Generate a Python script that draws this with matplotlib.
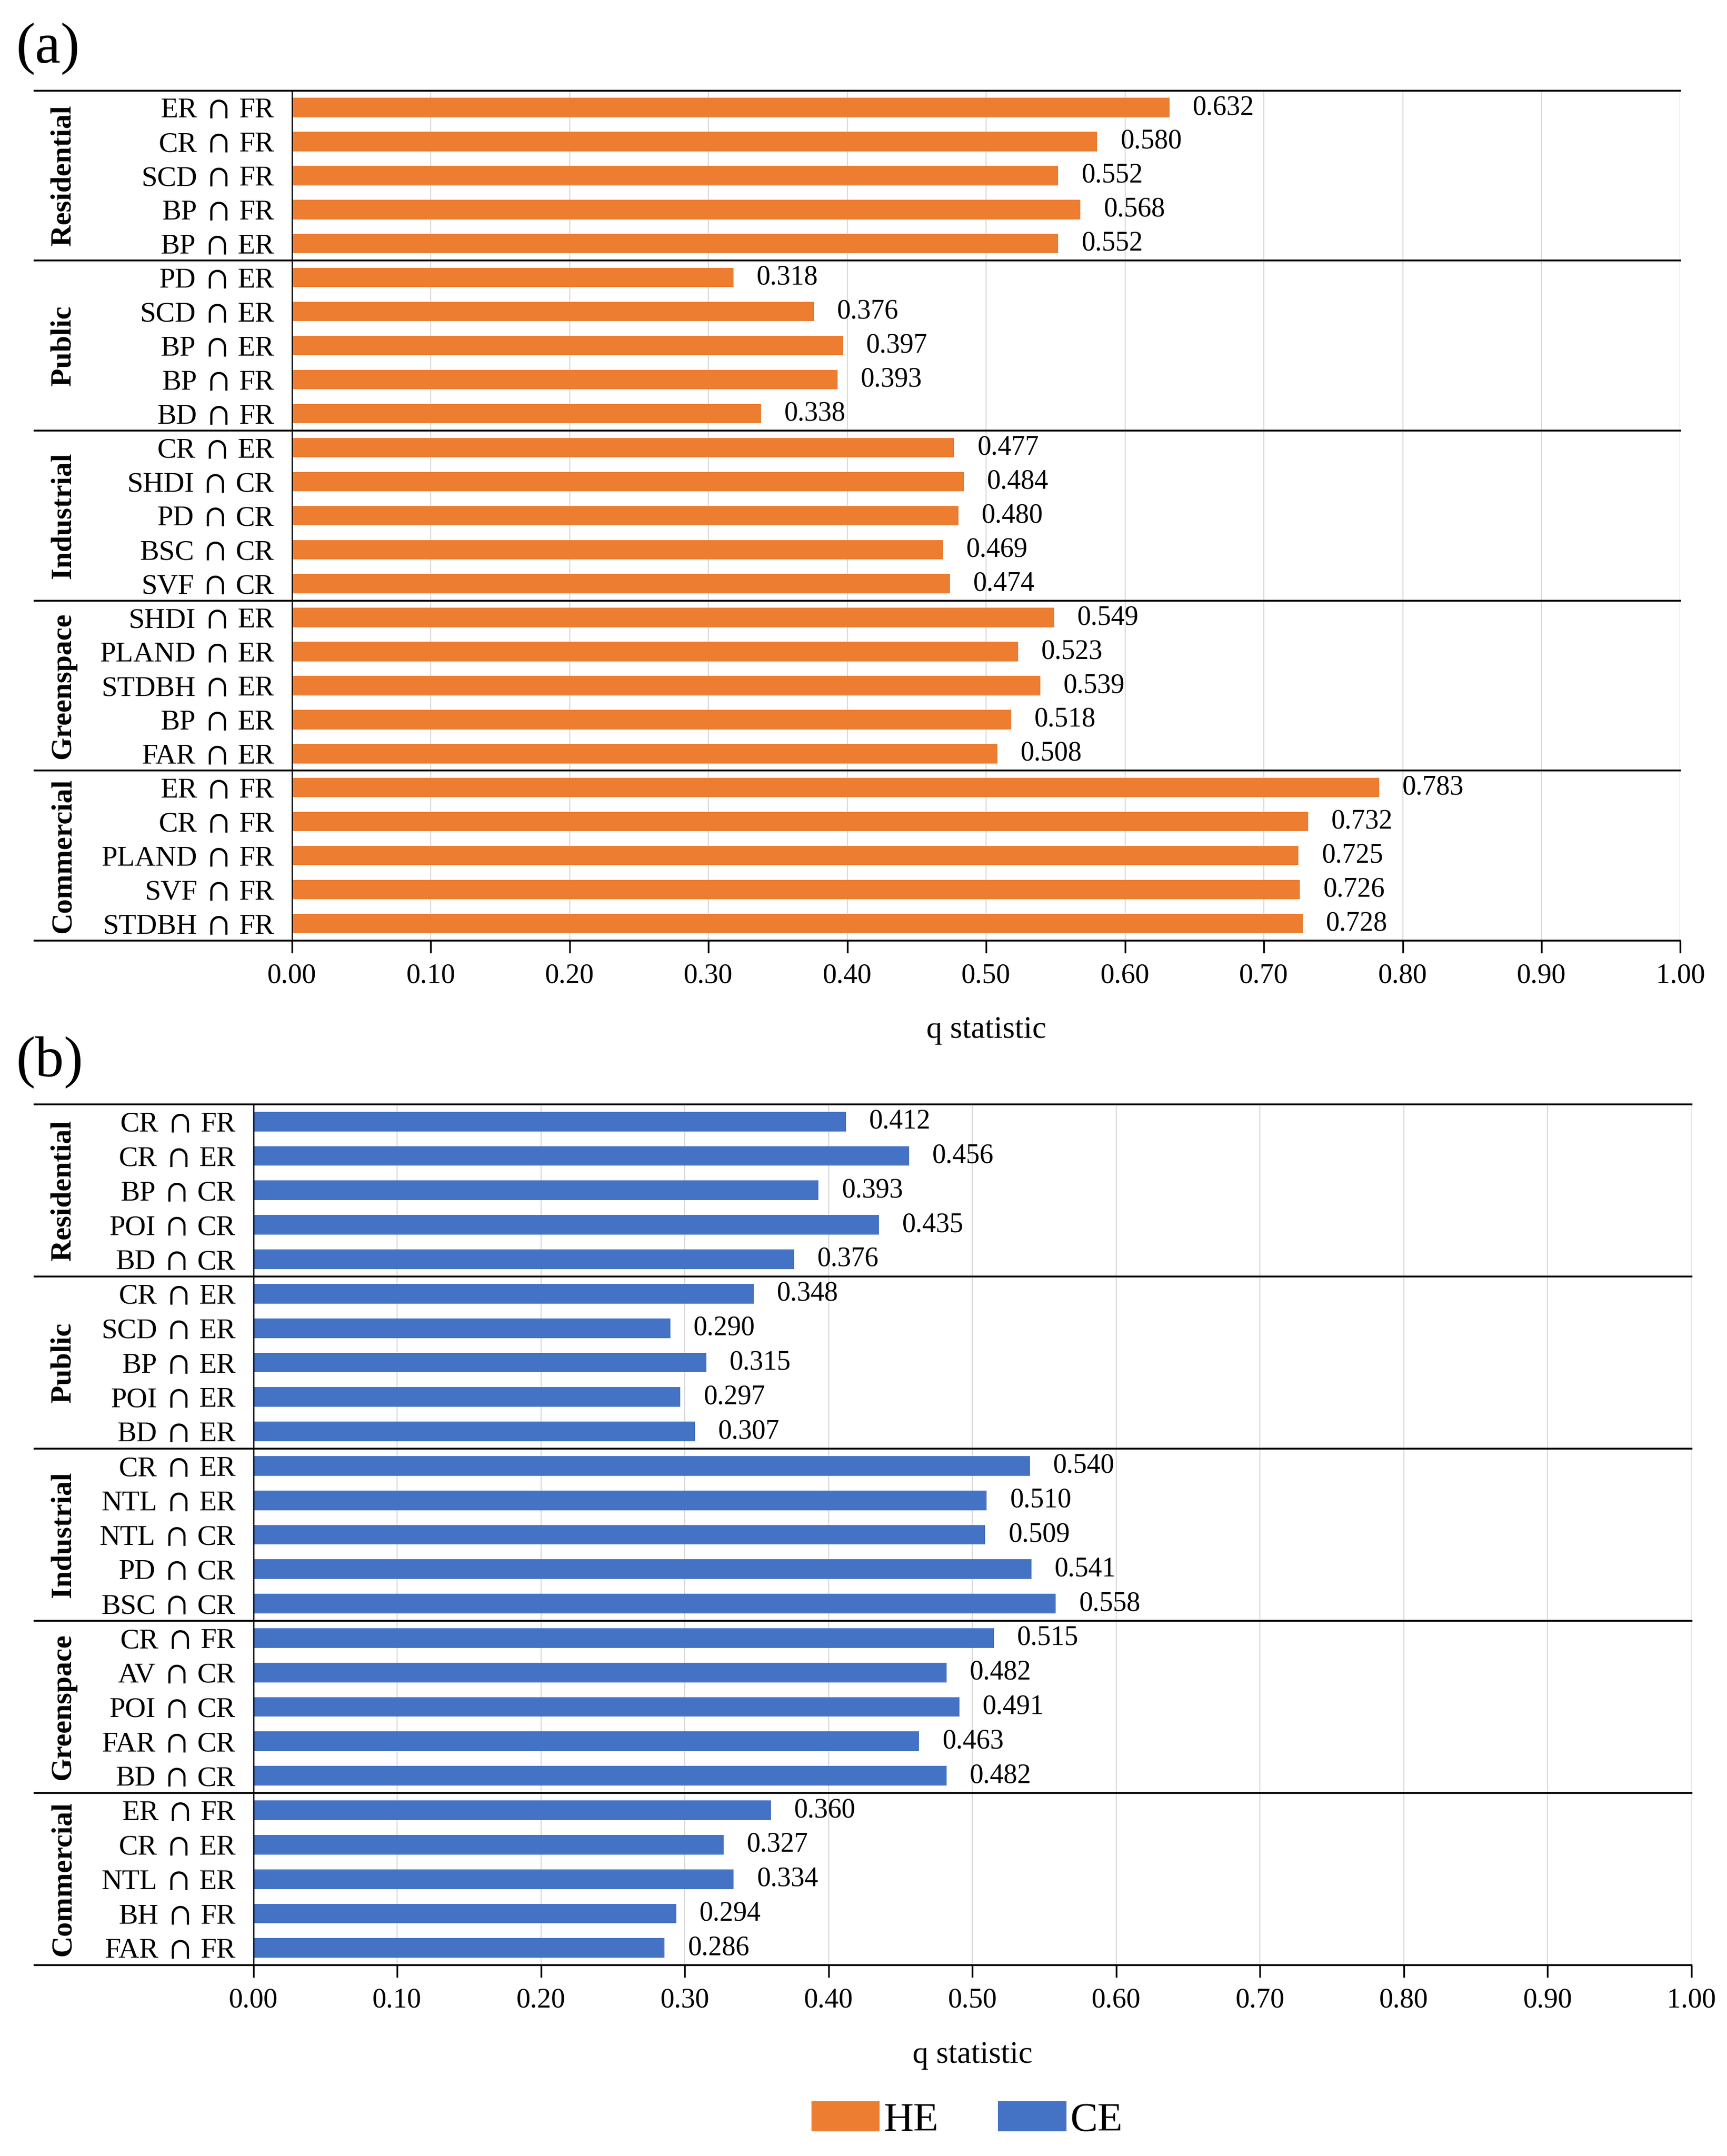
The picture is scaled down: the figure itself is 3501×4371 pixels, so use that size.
import numpy as np
import matplotlib
matplotlib.use('Agg')
import matplotlib.pyplot as plt
from matplotlib.patches import Patch
from matplotlib.transforms import blended_transform_factory
from matplotlib.offsetbox import TextArea, HPacker, AnnotationBbox

SERIF = ['Liberation Serif', 'DejaVu Serif']
plt.rcParams['font.family'] = SERIF

# ---- 数据 ----
groups = ['Residential', 'Public', 'Industrial', 'Greenspace', 'Commercial']

he_labels = ['ER ∩ FR', 'CR ∩ FR', 'SCD ∩ FR', 'BP ∩ FR', 'BP ∩ ER',
             'PD ∩ ER', 'SCD ∩ ER', 'BP ∩ ER', 'BP ∩ FR', 'BD ∩ FR',
             'CR ∩ ER', 'SHDI ∩ CR', 'PD ∩ CR', 'BSC ∩ CR', 'SVF ∩ CR',
             'SHDI ∩ ER', 'PLAND ∩ ER', 'STDBH ∩ ER', 'BP ∩ ER', 'FAR ∩ ER',
             'ER ∩ FR', 'CR ∩ FR', 'PLAND ∩ FR', 'SVF ∩ FR', 'STDBH ∩ FR']
he_values = [0.632, 0.580, 0.552, 0.568, 0.552,
             0.318, 0.376, 0.397, 0.393, 0.338,
             0.477, 0.484, 0.480, 0.469, 0.474,
             0.549, 0.523, 0.539, 0.518, 0.508,
             0.783, 0.732, 0.725, 0.726, 0.728]

ce_labels = ['CR ∩ FR', 'CR ∩ ER', 'BP ∩ CR', 'POI ∩ CR', 'BD ∩ CR',
             'CR ∩ ER', 'SCD ∩ ER', 'BP ∩ ER', 'POI ∩ ER', 'BD ∩ ER',
             'CR ∩ ER', 'NTL ∩ ER', 'NTL ∩ CR', 'PD ∩ CR', 'BSC ∩ CR',
             'CR ∩ FR', 'AV ∩ CR', 'POI ∩ CR', 'FAR ∩ CR', 'BD ∩ CR',
             'ER ∩ FR', 'CR ∩ ER', 'NTL ∩ ER', 'BH ∩ FR', 'FAR ∩ FR']
ce_values = [0.412, 0.456, 0.393, 0.435, 0.376,
             0.348, 0.290, 0.315, 0.297, 0.307,
             0.540, 0.510, 0.509, 0.541, 0.558,
             0.515, 0.482, 0.491, 0.463, 0.482,
             0.360, 0.327, 0.334, 0.294, 0.286]

x_ticks = np.arange(0, 1.01, 0.1)

HE_COLOR = '#ED7D31'
CE_COLOR = '#4472C4'

fig = plt.figure(figsize=(35.01, 43.71), dpi=100)
fig.patch.set_facecolor('white')

LINE_LEFT = 0.02  # 分隔线左端 (figure 坐标)


def cat_label(ax, yi, lab):
    """类别标签: ∩ 用 STIX 数学字体 (细且高), 右对齐到 y 轴左侧"""
    a, b = lab.split(' ∩ ')
    parts = [TextArea(a, textprops=dict(fontsize=42, family=SERIF)),
             TextArea(r'$\cap$', textprops=dict(fontsize=48, math_fontfamily='stix')),
             TextArea(b, textprops=dict(fontsize=42, family=SERIF))]
    box = HPacker(children=parts, align='baseline', pad=0, sep=16)
    tr = blended_transform_factory(ax.transAxes, ax.transData)
    ab = AnnotationBbox(box, (0, yi), xycoords=tr, xybox=(-26, 0),
                        boxcoords='offset points', box_alignment=(1, 0.56),
                        frameon=False, annotation_clip=False, pad=0)
    ax.add_artist(ab)


def draw_panel(rect, labels, values, color, tag):
    ax = fig.add_axes(rect)
    n = len(labels)
    y = np.arange(n)
    ax.barh(y, values, height=0.57, color=color, zorder=3)
    ax.set_ylim(n - 0.5, -0.5)
    ax.set_xlim(0, 1.0)
    ax.set_yticks(y)
    ax.set_yticklabels([])
    ax.tick_params(axis='y', length=0)
    for yi, lab in zip(y, labels):
        cat_label(ax, yi, lab)
    ax.set_xticks(x_ticks)
    ax.set_xticklabels([f'{t:.2f}' for t in x_ticks], fontsize=41)
    ax.tick_params(axis='x', direction='out', length=18, width=2.5, pad=15)
    ax.grid(axis='x', color='#d9d9d9', linewidth=1.6, zorder=0)
    ax.set_axisbelow(True)
    for s in ['top', 'right', 'bottom']:
        ax.spines[s].set_visible(False)
    ax.spines['left'].set_linewidth(1.8)
    ax.spines['left'].set_zorder(4)
    ax.set_xlabel('q statistic', fontsize=46, labelpad=40)

    # 数值标签
    for yi, v in zip(y, values):
        ax.annotate(f'{v:.3f}', (v, yi), xytext=(34, 0), textcoords='offset points',
                    va='center', ha='left', fontsize=40)

    # 组分隔线 (延伸到左侧)
    left, bottom, width, height = rect
    x_ax = (LINE_LEFT - left) / width
    tr = blended_transform_factory(ax.transAxes, ax.transData)
    for k in range(len(groups) + 1):
        yy = k * 5 - 0.5
        ax.plot([x_ax, 1.0], [yy, yy], color='black', linewidth=2.6,
                transform=tr, clip_on=False, zorder=5)

    # 组名 (竖排)
    trg = blended_transform_factory(fig.transFigure, ax.transData)
    for k, g in enumerate(groups):
        ax.text(0.0366, k * 5 + 2, g, transform=trg, rotation=90, ha='center',
                va='center', fontsize=43, fontweight='bold')

    fig.text(0.0095, rect[1] + rect[3] + 0.0075, tag, fontsize=84, ha='left',
             va='bottom')
    return ax


ax_a = draw_panel([0.169, 0.5637, 0.804, 0.3943], he_labels, he_values, HE_COLOR, '(a)')
ax_b = draw_panel([0.1467, 0.0885, 0.8327, 0.3993], ce_labels, ce_values, CE_COLOR, '(b)')

handles = [Patch(facecolor=HE_COLOR, label='HE'), Patch(facecolor=CE_COLOR, label='CE')]
fig.legend(handles=handles, loc='center', bbox_to_anchor=(0.560, 0.0165), ncol=2,
           frameon=False, fontsize=60, handlelength=1.66, handleheight=0.75,
           handletextpad=0.1, columnspacing=1.45)

fig.savefig('out.png', dpi=100, facecolor='white')
